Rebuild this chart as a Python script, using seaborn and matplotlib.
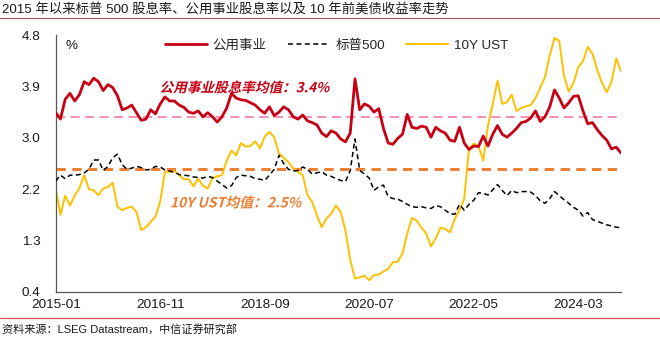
import numpy as np
import pandas as pd
import seaborn as sns
import matplotlib
matplotlib.use("Agg")
import matplotlib.pyplot as plt
import matplotlib.transforms as mtransforms
from matplotlib.lines import Line2D
from matplotlib.textpath import TextPath
from matplotlib.patches import PathPatch
from matplotlib.font_manager import FontProperties

# ---- data: monthly, 2015-01 .. 2024-12 (%) ----
months = pd.date_range("2015-01-01", "2024-12-01", freq="MS").strftime("%Y-%m").tolist()

utilities = [
    3.47, 3.36, 3.70, 3.80, 3.67, 3.78, 4.00, 3.95, 4.06, 4.00,
    3.85, 3.95, 3.90, 3.76, 3.52, 3.55, 3.60, 3.47, 3.34, 3.36,
    3.52, 3.45, 3.62, 3.74, 3.67, 3.67, 3.60, 3.56, 3.48, 3.46,
    3.50, 3.40, 3.47, 3.40, 3.31, 3.40, 3.55, 3.80, 3.72, 3.69,
    3.68, 3.64, 3.60, 3.52, 3.46, 3.57, 3.42, 3.48, 3.57, 3.52,
    3.40, 3.36, 3.43, 3.33, 3.30, 3.26, 3.12, 3.06, 3.16, 3.12,
    3.02, 2.97, 3.12, 4.05, 3.52, 3.62, 3.58, 3.48, 3.54, 3.20,
    2.95, 2.93, 3.03, 3.10, 3.44, 3.22, 3.20, 3.24, 3.22, 3.05,
    3.22, 3.16, 3.12, 3.00, 2.98, 3.22, 2.95, 2.84, 2.90, 2.89,
    3.07, 2.90, 3.10, 3.25, 3.10, 3.05, 3.12, 3.20, 3.30, 3.32,
    3.38, 3.50, 3.32, 3.40, 3.57, 3.86, 3.72, 3.55, 3.64, 3.75,
    3.76, 3.50, 3.28, 3.30, 3.18, 3.08, 3.00, 2.85, 2.88, 2.78,
]

sp500 = [
    2.30, 2.40, 2.34, 2.40, 2.40, 2.41, 2.44, 2.50, 2.66, 2.66,
    2.48, 2.55, 2.70, 2.76, 2.58, 2.50, 2.52, 2.55, 2.53, 2.49,
    2.50, 2.55, 2.54, 2.49, 2.47, 2.45, 2.41, 2.40, 2.39, 2.37,
    2.36, 2.35, 2.38, 2.36, 2.30, 2.24, 2.18, 2.22, 2.36, 2.40,
    2.39, 2.38, 2.34, 2.33, 2.31, 2.40, 2.50, 2.74, 2.60, 2.50,
    2.47, 2.48, 2.54, 2.50, 2.42, 2.44, 2.46, 2.40, 2.38, 2.34,
    2.31, 2.29, 2.48, 3.02, 2.48, 2.42, 2.35, 2.14, 2.20, 2.23,
    2.03, 2.00, 1.99, 1.95, 1.90, 1.86, 1.85, 1.86, 1.84, 1.83,
    1.88, 1.86, 1.80, 1.74, 1.73, 1.90, 1.80, 1.90, 1.97, 2.10,
    2.09, 2.06, 2.15, 2.24, 2.14, 2.05, 2.14, 2.10, 2.12, 2.12,
    2.11, 2.05, 1.96, 1.92, 2.00, 2.12, 2.05, 1.98, 1.92, 1.85,
    1.80, 1.70, 1.76, 1.64, 1.61, 1.58, 1.55, 1.53, 1.51, 1.50,
]

ust10y = [
    2.17, 1.72, 2.05, 1.88, 2.05, 2.18, 2.40, 2.16, 2.14, 2.06,
    2.17, 2.20, 2.27, 1.86, 1.80, 1.84, 1.86, 1.77, 1.46, 1.51,
    1.60, 1.69, 1.95, 2.46, 2.46, 2.47, 2.40, 2.33, 2.33, 2.21,
    2.34, 2.22, 2.17, 2.35, 2.38, 2.40, 2.65, 2.82, 2.74, 2.95,
    2.89, 2.90, 2.98, 2.86, 3.06, 3.14, 3.05, 2.77, 2.70, 2.62,
    2.52, 2.46, 2.40, 2.06, 1.94, 1.71, 1.51, 1.66, 1.74, 1.88,
    1.77, 1.45, 0.95, 0.63, 0.65, 0.68, 0.60, 0.69, 0.70, 0.75,
    0.80, 0.91, 0.92, 1.06, 1.40, 1.67, 1.62, 1.50, 1.40, 1.18,
    1.32, 1.50, 1.48, 1.42, 1.65, 1.80, 2.00, 2.85, 2.94, 2.90,
    2.65, 3.25, 3.62, 4.02, 3.62, 3.65, 3.78, 3.50, 3.55, 3.58,
    3.60, 3.72, 3.90, 4.08, 4.45, 4.75, 4.70, 4.10, 3.83, 3.98,
    4.25, 4.35, 4.60, 4.48, 4.20, 3.98, 3.82, 4.00, 4.40, 4.18,
]

series_names = ["公用事业", "标普500", "10Y UST"]
utilities_mean = 3.4
ust_mean = 2.5
y_ticks = [0.4, 1.28, 2.16, 3.04, 3.92, 4.8]
x_tick_step = 22

title = "2015 年以来标普 500 股息率、公用事业股息率以及 10 年前美债收益率走势"
source = "资料来源：LSEG Datastream，中信证券研究部"

# ---- style ----
sns.set_style("white")
plt.rcParams["font.family"] = ["Liberation Sans", "Noto Sans CJK SC", "DejaVu Sans"]

RED = "#c80014"
BLACK = "#000000"
YELLOW = "#ffc000"
PINK = "#f4739a"
ORANGE = "#ed7d31"

W, H = 660, 341
fig = plt.figure(figsize=(W / 100, H / 100), dpi=100)
ax = fig.add_axes([55.7 / W, 1 - 292 / H, (621 - 55.7) / W, (292 - 35) / H])

df = pd.DataFrame({
    "idx": np.arange(len(months)),
    "month": months,
    series_names[0]: utilities,
    series_names[1]: sp500,
    series_names[2]: ust10y,
})

ax.axhline(utilities_mean, color=PINK, lw=1.1, linestyle=(0, (6, 3.5)), zorder=1)
ax.axhline(ust_mean, color=ORANGE, lw=2.1, linestyle=(0, (3.2, 2.2)), zorder=1)

sns.lineplot(data=df, x="idx", y=series_names[2], ax=ax, color=YELLOW, lw=1.4, zorder=2)
sns.lineplot(data=df, x="idx", y=series_names[1], ax=ax, color=BLACK, lw=1.1,
             linestyle=(0, (3.3, 2.2)), zorder=3)
sns.lineplot(data=df, x="idx", y=series_names[0], ax=ax, color=RED, lw=2.0, zorder=4)

ax.set_xlim(0, len(months) - 1)
ax.set_ylim(y_ticks[0], y_ticks[-1])
ax.set_xlabel("")
ax.set_ylabel("")

xt = list(range(0, len(months), x_tick_step))
ax.set_xticks(xt)
ax.set_xticklabels([months[i] for i in xt])
ax.set_yticks(y_ticks)
ax.set_yticklabels([f"{v:.1f}" for v in y_ticks])

for s in ["top", "right"]:
    ax.spines[s].set_visible(False)
for s in ["left", "bottom"]:
    ax.spines[s].set_color("#595959")
    ax.spines[s].set_linewidth(0.9)

ax.tick_params(axis="x", direction="in", length=4, width=0.8, color="#595959",
               labelsize=9.7, pad=5, labelcolor="#1a1a1a")
ax.tick_params(axis="y", direction="out", length=3, width=0.8, color="#595959",
               labelsize=9.7, pad=8, labelcolor="#1a1a1a")
ax.grid(False)


def slanted_label(ax, x, y, s, size, color, weight="normal", slant=14):
    fp = FontProperties(family=["Noto Sans CJK SC"], weight=weight)
    tp = TextPath((0, 0), s, size=size, prop=fp)
    bb = tp.get_extents()
    tr = (mtransforms.Affine2D().translate(-(bb.x0 + bb.x1) / 2, -(bb.y0 + bb.y1) / 2)
          + mtransforms.Affine2D().skew_deg(slant, 0)
          + mtransforms.Affine2D().scale(ax.figure.dpi / 72)
          + mtransforms.ScaledTranslation(x, y, ax.transData))
    ax.add_patch(PathPatch(tp, transform=tr, facecolor=color, edgecolor="none", zorder=6))


slanted_label(ax, 40.0, 3.91, f"公用事业股息率均值：{utilities_mean:.1f}%", 9.8, RED, weight="bold")
slanted_label(ax, 38.2, 1.94, f"10Y UST均值：{ust_mean:.1f}%", 10.0, ORANGE, weight="bold")

ax.set_xlim(0, len(months) - 1)
ax.set_ylim(y_ticks[0], y_ticks[-1])

# unit label
fig.text(65 / W, 1 - 46 / H, "%", fontsize=9.7, ha="left", va="center", color="#1a1a1a")

# legend
handles = [
    Line2D([], [], color=RED, lw=2.0),
    Line2D([], [], color=BLACK, lw=1.1, linestyle=(0, (3.3, 2.2))),
    Line2D([], [], color=YELLOW, lw=1.4),
]
fig.legend(handles, series_names, loc="center", bbox_to_anchor=(336.5 / W, 1 - 45.7 / H),
           ncol=3, frameon=False, handlelength=3.1, handletextpad=0.45,
           columnspacing=1.55, fontsize=9.7)

# title, rules and source
fig.text(2 / W, 1 - 10 / H, title, fontsize=9.6, ha="left", va="center", color="#1a1a1a")
fig.add_artist(Line2D([0, 1], [1 - 17.5 / H, 1 - 17.5 / H], transform=fig.transFigure,
                      color="#a85050", lw=0.8))
fig.add_artist(Line2D([0, 1], [1 - 318 / H, 1 - 318 / H], transform=fig.transFigure,
                      color="#d65050", lw=0.9))
fig.text(2 / W, 1 - 329 / H, source, fontsize=8.0, ha="left", va="center", color="#1a1a1a")

fig.savefig("out.png", dpi=100, facecolor="white")
